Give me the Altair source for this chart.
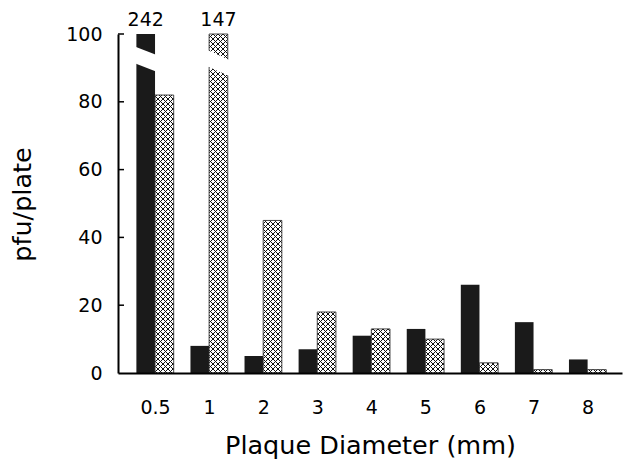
import json
import jinja2
import pandas as pd
import altair as alt

# ---------------- data ----------------
diameters = ["0.5", "1", "2", "3", "4", "5", "6", "7", "8"]
solid_counts = [242, 8, 5, 7, 11, 13, 26, 15, 4]
hatched_counts = [82, 147, 45, 18, 13, 10, 3, 1, 1]
y_tick_values = [0, 20, 40, 60, 80, 100]
y_limit = 100

# axis-break bands drawn across the two off-scale bars (in pfu/plate units)
break_series = ["solid", "hatched"]
break_diameter = ["0.5", "1"]
break_left_top = [96.3, 95.3]
break_left_bottom = [91.4, 90.4]
break_right_top = [93.8, 92.3]
break_right_bottom = [88.9, 87.6]

# ---------------- layout helpers ----------------
BAR_W = 0.345
offsets = {"solid": (-BAR_W, 0.0), "hatched": (0.0, BAR_W)}

rows = []
for i, d in enumerate(diameters):
    for s, vals in (("solid", solid_counts), ("hatched", hatched_counts)):
        a, b = offsets[s]
        rows.append({"diameter": d, "idx": i, "series": s, "count": vals[i],
                     "x0": i + a, "x1": i + b})
bars = pd.DataFrame(rows)

brk_rows = []
for s, d, lt, lb, rt, rb in zip(break_series, break_diameter, break_left_top,
                                break_left_bottom, break_right_top, break_right_bottom):
    i = diameters.index(d)
    a, b = offsets[s]
    brk_rows.append({"key": s, "xb": i + a - 0.03, "top": lt, "bottom": lb})
    brk_rows.append({"key": s, "xb": i + b + 0.03, "top": rt, "bottom": rb})
breaks = pd.DataFrame(brk_rows)

ticks_df = pd.DataFrame({"tick": [v for v in y_tick_values if v > 0]})

x_scale = alt.Scale(domain=[-0.685, 8.636], nice=False, zero=False)
y_scale = alt.Scale(domain=[0, y_limit], nice=False)
label_expr = json.dumps(diameters) + "[datum.value]"

x_axis = alt.Axis(values=list(range(len(diameters))), labelExpr=label_expr,
                  title="Plaque Diameter (mm)", ticks=False, tickSize=0,
                  grid=False, labelPadding=40, labelBaseline="alphabetic",
                  titleY=80, titleBaseline="alphabetic", zindex=1)
y_axis = alt.Axis(values=y_tick_values, title="pfu/plate", ticks=False,
                  tickSize=0, grid=False, labelPadding=16, titleX=-88,
                  titleY=170, titleAngle=270, titleBaseline="alphabetic",
                  titleAlign="center", zindex=1)


def X(field):
    return alt.X(field, scale=x_scale, axis=x_axis, title="Plaque Diameter (mm)")


def Y(field):
    return alt.Y(field, scale=y_scale, axis=y_axis, title="pfu/plate")


base = alt.Chart(bars).transform_calculate(
    shown=f"min(datum.count, {y_limit})", base="0"
)

solid = base.transform_filter("datum.series == 'solid'").mark_rect(
    fill="#1a1a1a"
).encode(x=X("x0:Q"), x2="x1:Q", y=Y("shown:Q"), y2="base:Q")

hatched = base.transform_filter("datum.series == 'hatched'").mark_rect(
    fill="url(#xhatch)", stroke="#333333", strokeWidth=0.9
).encode(x=X("x0:Q"), x2="x1:Q", y=Y("shown:Q"), y2="base:Q")

break_marks = alt.Chart(breaks).mark_area(fill="white", opacity=1, interpolate="linear").encode(
    x=X("xb:Q"), y=Y("top:Q"), y2="bottom:Q", detail="key:N",
)

over_labels = base.transform_filter(f"datum.count > {y_limit}").transform_calculate(
    xm="(datum.x0 + datum.x1) / 2"
).mark_text(dy=-8, baseline="alphabetic", font="DejaVu Sans", fontSize=19, color="black").encode(
    x=X("xm:Q"), y=Y("shown:Q"), text=alt.Text("count:Q", format="d"),
)

inner_ticks = alt.Chart(ticks_df).mark_rule(color="black", strokeWidth=1.5).encode(
    y=Y("tick:Q"), x=alt.value(0), x2=alt.value(6),
)

chart = alt.layer(solid, hatched, break_marks, over_labels, inner_ticks).properties(
    width=504, height=339,
    autosize=alt.AutoSizeParams(type="none"),
    padding={"left": 118, "top": 34, "right": 20, "bottom": 87},
    background="white",
).configure_view(stroke=None).configure_axis(
    labelFont="DejaVu Sans", labelFontSize=19, labelColor="black",
    titleFont="DejaVu Sans", titleFontSize=25.5, titleFontWeight="normal",
    titleColor="black", domainColor="black", domainWidth=2,
)

PAGE = jinja2.Template("""<!DOCTYPE html>
<html>
<head>
  <meta charset="utf-8">
  <style>
    body { margin: 0; }
    #{{ output_div }}.vega-embed { width: 100%; display: flex; }
  </style>
  <script type="text/javascript" src="{{ base_url }}/vega@{{ vega_version }}"></script>
  <script type="text/javascript" src="{{ base_url }}/vega-lite@{{ vegalite_version }}"></script>
  <script type="text/javascript" src="{{ base_url }}/vega-embed@{{ vegaembed_version }}"></script>
</head>
<body>
  <svg width="0" height="0" style="position:absolute;width:0;height:0" aria-hidden="true">
    <defs>
      <pattern id="xhatch" patternUnits="userSpaceOnUse" width="5" height="5">
        <rect width="5" height="5" fill="white"/>
        <path d="M0,0L5,5M5,0L0,5" stroke="#111111" stroke-width="1"/>
      </pattern>
    </defs>
  </svg>
  <div id="{{ output_div }}"></div>
  <script type="text/javascript">
    (function() {
      var spec = {{ spec }};
      var embedOpt = {{ embed_options }};
      embedOpt.mode = "{{ mode }}";
      vegaEmbed("#{{ output_div }}", spec, embedOpt).catch(function(err) {
        document.getElementById("{{ output_div }}").innerHTML = "<pre>" + err + "</pre>";
      });
    })();
  </script>
</body>
</html>
""")

chart.save("out.html", embed_options={"renderer": "svg", "actions": False}, template=PAGE)
